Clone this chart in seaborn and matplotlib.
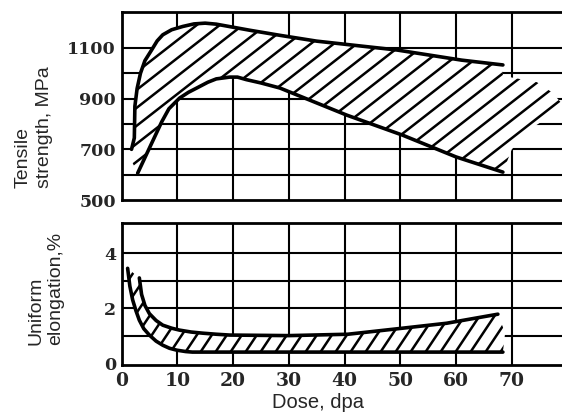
import numpy as np
import pandas as pd
import matplotlib
matplotlib.use("Agg")
import matplotlib.pyplot as plt
from matplotlib.patches import Polygon
import seaborn as sns

# ---------------- data ----------------
# Tensile strength band (MPa vs dose, dpa)
ts_upper_dose = [1.8, 2.3, 2.4, 2.8, 3.4, 4.2, 5.4, 6.4, 7.4, 9.0, 11.0, 13.0, 15.0, 17.0,
                 19.0, 23.0, 28.4, 35.0, 49.4, 61.0, 68.4]
ts_upper_val = [700, 745, 870, 940, 1000, 1050, 1092, 1128, 1152, 1172, 1185, 1195, 1198, 1194,
                1186, 1170, 1150, 1127, 1092, 1052, 1033]
ts_lower_dose = [2.9, 7.2, 8.5, 10.4, 12.0, 13.5, 15.5, 17.0, 19.4, 20.8, 22.4, 25.0, 28.4,
                 40.4, 50.4, 60.0, 68.4]
ts_lower_val = [606, 808, 860, 902, 925, 942, 965, 978, 985, 985, 975, 962, 942,
                835, 756, 670, 610]
# extrapolated (hatch-only) part of the band beyond the curves
ts_ext_top_dose = [68.4, 74.5, 77.2, 79.0]
ts_ext_top_val = [990, 965, 925, 880]
ts_ext_bot_dose = [79.0, 74.0, 70.0]
ts_ext_bot_val = [860, 790, 700]
ts_left_dose = [1.9]
ts_left_val = [650]

# Uniform elongation band (% vs dose, dpa)
ue_upper_dose = [3.2, 3.6, 4.2, 5.0, 6.2, 7.4, 9.0, 10.4, 12.5, 14.5, 17.0, 19.4, 30.0, 40.6,
                 50.4, 58.3, 67.5]
ue_upper_val = [3.1, 2.5, 2.1, 1.8, 1.55, 1.38, 1.27, 1.2, 1.13, 1.09, 1.05, 1.02, 1.0, 1.05,
                1.27, 1.45, 1.78]
ue_lower_dose = [1.1, 1.5, 2.0, 2.6, 3.2, 4.0, 5.0, 6.2, 7.4, 8.6, 9.9, 11.5, 12.7, 30.0, 50.0, 68.4]
ue_lower_val = [3.45, 2.8, 2.3, 1.9, 1.56, 1.25, 1.02, 0.8, 0.65, 0.54, 0.47, 0.42, 0.4, 0.4, 0.4, 0.4]
ue_ext_dose = [68.8]
ue_ext_val = [1.1]

x_ticks = [0, 10, 20, 30, 40, 50, 60, 70]
ts_ticks = [500, 700, 900, 1100]
ts_grid = [600, 700, 800, 900, 1000, 1100]
ue_ticks = [0, 2, 4]
ue_grid = [1, 2, 3, 4]

# ---------------- style ----------------
sns.set_theme(style="white")
plt.rcParams["font.family"] = ["DejaVu Sans"]

W, H = 562, 416
fig = plt.figure(figsize=(W / 100, H / 100), dpi=100)

def px_axes(left, top, right, bottom):
    return fig.add_axes([left / W, 1 - bottom / H, (right - left) / W, (bottom - top) / H])

ax1 = px_axes(121.5, 12, 562, 200)
ax2 = px_axes(121.5, 223, 562, 365)

ytick_font = dict(family="DejaVu Serif", weight="bold", size=12.5)
xtick_font = dict(family="DejaVu Serif", weight="bold", size=13.5)
label_font = dict(family="Liberation Sans", size=14)

def style_axes(ax, ylim, yticks, ygrid, show_x):
    ax.set_xlim(0, 79)
    ax.set_ylim(*ylim)
    for x in x_ticks[1:]:
        ax.axvline(x, color="black", lw=1.5, zorder=1)
    for y in ygrid:
        ax.axhline(y, color="black", lw=1.5, zorder=1)
    ax.set_yticks(yticks)
    ax.set_yticklabels([str(t) for t in yticks], fontdict=ytick_font)
    if show_x:
        ax.set_xticks(x_ticks)
        ax.set_xticklabels([str(t) for t in x_ticks], fontdict=xtick_font)
    else:
        ax.set_xticks([])
    ax.tick_params(length=0, pad=4)
    for s in ["left", "top", "bottom"]:
        ax.spines[s].set_color("black")
        ax.spines[s].set_linewidth(2.0)
    ax.spines["right"].set_visible(False)
    ax.grid(False)

style_axes(ax1, (500, 1242), ts_ticks, ts_grid, False)
style_axes(ax2, (-0.07, 5.1), ue_ticks, ue_grid, True)
ax2.tick_params(axis="x", pad=5)

def hatch_band(ax, poly_pts, slope_px, spacing_px, lw):
    patch = Polygon(poly_pts, closed=True, facecolor="white", edgecolor="none", zorder=2)
    ax.add_patch(patch)
    bb = ax.get_position()
    wpx, hpx = bb.width * W, bb.height * H
    run = hpx / slope_px
    x0 = -run
    while x0 < wpx:
        xs = [x0 / wpx, (x0 + run) / wpx]
        ys = [0, 1]
        ln, = ax.plot(xs, ys, transform=ax.transAxes, color="black", lw=lw,
                      zorder=3, solid_capstyle="butt")
        ln.set_clip_path(patch)
        x0 += spacing_px

# top band polygon
ts_poly = (list(zip(ts_upper_dose, ts_upper_val)) +
           list(zip(ts_ext_top_dose, ts_ext_top_val)) +
           list(zip(ts_ext_bot_dose, ts_ext_bot_val)) +
           list(zip(ts_lower_dose[::-1], ts_lower_val[::-1])) +
           list(zip(ts_left_dose, ts_left_val)))
hatch_band(ax1, ts_poly, 0.78, 23, 1.8)

ue_poly = (list(zip(ue_lower_dose, ue_lower_val)) +
           list(zip(ue_ext_dose, ue_ext_val)) +
           list(zip(ue_upper_dose[::-1], ue_upper_val[::-1])))
hatch_band(ax2, ue_poly, 1.5, 15, 1.8)

# boundary curves
for ax, xs, ys in [(ax1, ts_upper_dose, ts_upper_val), (ax1, ts_lower_dose, ts_lower_val),
                   (ax2, ue_upper_dose, ue_upper_val), (ax2, ue_lower_dose, ue_lower_val)]:
    df = pd.DataFrame({"dose": xs, "val": ys})
    sns.lineplot(data=df, x="dose", y="val", sort=False, color="black", lw=2.6, ax=ax, zorder=4)
    ax.set_xlabel("")
    ax.set_ylabel("")

# labels
fig.text(34 / W, 1 - 188 / H, "Tensile\nstrength, MPa", rotation=90, ha="center", va="bottom",
         multialignment="left", linespacing=1.3, **label_font)
fig.text(46 / W, 1 - 345 / H, "Uniform\nelongation,%", rotation=90, ha="center", va="bottom",
         multialignment="left", linespacing=1.2, **label_font)
fig.text(317.5 / W, 1 - 403 / H, "Dose, dpa", ha="center", va="center",
         family="Liberation Sans", size=14.5)

fig.savefig("out.png", dpi=100)
